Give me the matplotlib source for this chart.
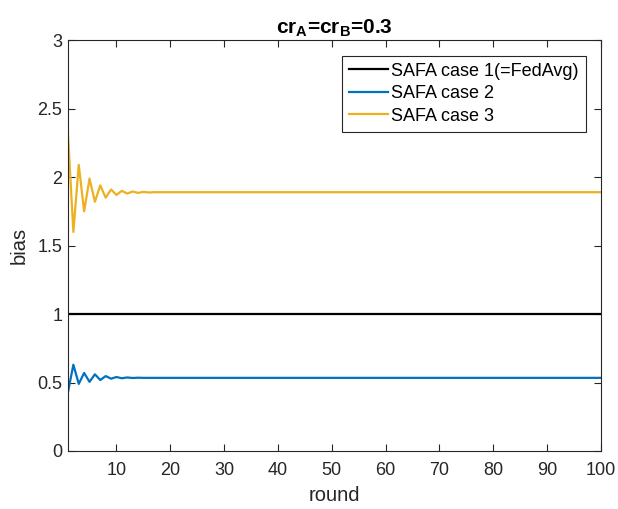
import matplotlib
matplotlib.use('Agg')
import matplotlib.pyplot as plt
import numpy as np

plt.rcParams['font.family'] = ['Liberation Sans', 'DejaVu Sans']
plt.rcParams['mathtext.fontset'] = 'custom'
plt.rcParams['mathtext.rm'] = 'Liberation Sans'
plt.rcParams['mathtext.bf'] = 'Liberation Sans:bold'

# Values (transient then converged level)
rounds = np.arange(1, 101)
case1_start = [1.0]
case1_level = 1.0
case2_start = [0.43, 0.63, 0.49, 0.57, 0.505, 0.56, 0.518, 0.547, 0.528, 0.54,
               0.531, 0.537, 0.533, 0.535]
case2_level = 0.534
case3_start = [2.31, 1.60, 2.09, 1.75, 1.99, 1.82, 1.94, 1.85, 1.91, 1.87,
               1.90, 1.88, 1.895, 1.885, 1.892, 1.888]
case3_level = 1.89
labels = ['SAFA case 1(=FedAvg)', 'SAFA case 2', 'SAFA case 3']
colors = ['#000000', '#0072BD', '#EDB120']
xticks = [10, 20, 30, 40, 50, 60, 70, 80, 90, 100]
yticks = [0, 0.5, 1, 1.5, 2, 2.5, 3]


def full_series(start, level):
    '''Pad the transient with the converged level up to 100 rounds'''
    return np.array(start + [level] * (len(rounds) - len(start)))


series = [full_series(case1_start, case1_level),
          full_series(case2_start, case2_level),
          full_series(case3_start, case3_level)]

fig = plt.figure(figsize=(6.18, 5.09), dpi=100)
ax = fig.add_axes([0.110, 0.114, 0.8625, 0.807])

for s, c, l in zip(series, colors, labels):
    ax.plot(rounds, s, color=c, linewidth=1.6, label=l)

ax.set_xlim(1, 100)
ax.set_ylim(0, 3)
ax.set_xticks(xticks)
ax.set_yticks(yticks)
ax.set_yticklabels(['0', '0.5', '1', '1.5', '2', '2.5', '3'])
ax.tick_params(direction='in', top=True, right=True, labelsize=13,
               colors='#262626', length=5, width=0.8)
ax.tick_params(axis='x', pad=8)
ax.tick_params(axis='y', pad=4)
for sp in ax.spines.values():
    sp.set_color('#262626')
    sp.set_linewidth(0.8)

ax.set_xlabel('round', fontsize=14.5, color='#262626', labelpad=5)
ax.set_ylabel('bias', fontsize=14.5, color='#262626', labelpad=6)
ax.set_title(r'$\mathbf{cr_A}$=$\mathbf{cr_B}$=0.3', fontsize=15,
             fontweight='bold', pad=5)

leg = ax.legend(loc='upper right', fontsize=13, fancybox=False, framealpha=1,
                edgecolor='#262626', handlelength=2.15, handletextpad=0.15,
                borderpad=0.4, labelspacing=0.3, borderaxespad=0.85)
leg.get_frame().set_linewidth(0.8)

fig.savefig('out.png', dpi=100)
